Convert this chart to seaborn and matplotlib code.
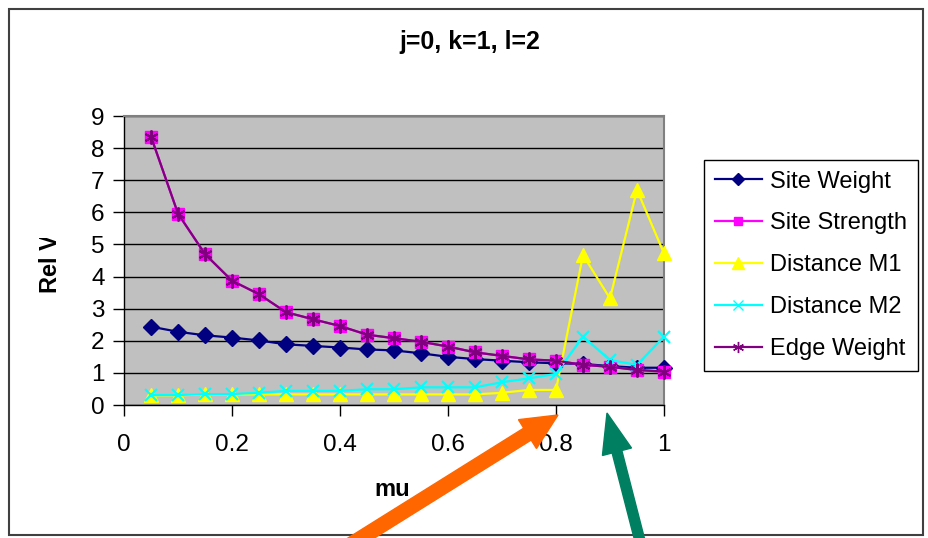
import matplotlib
matplotlib.use('Agg')
import matplotlib.pyplot as plt
import matplotlib.patches as mpatches
import matplotlib.transforms as mtrans
from matplotlib.lines import Line2D
import numpy as np
import pandas as pd
import seaborn as sns

# data
mu = [0.05, 0.10, 0.15, 0.20, 0.25, 0.30, 0.35, 0.40, 0.45, 0.50,
      0.55, 0.60, 0.65, 0.70, 0.75, 0.80, 0.85, 0.90, 0.95, 1.00]
site_weight = [2.44, 2.28, 2.17, 2.10, 2.01, 1.89, 1.84, 1.79, 1.73, 1.70,
               1.61, 1.50, 1.43, 1.38, 1.33, 1.30, 1.28, 1.21, 1.16, 1.16]
edge_weight = [8.36, 5.96, 4.70, 3.87, 3.45, 2.89, 2.67, 2.46, 2.19, 2.08,
               1.97, 1.82, 1.64, 1.53, 1.42, 1.38, 1.25, 1.19, 1.09, 1.04]
site_strength = list(edge_weight)
distance_m1 = [0.30, 0.30, 0.33, 0.33, 0.33, 0.33, 0.33, 0.33, 0.33, 0.33,
               0.33, 0.33, 0.33, 0.38, 0.47, 0.47, 4.67, 3.32, 6.70, 4.72]
distance_m2 = [0.31, 0.31, 0.34, 0.34, 0.38, 0.44, 0.44, 0.44, 0.49, 0.49,
               0.55, 0.55, 0.55, 0.71, 0.83, 0.97, 2.13, 1.40, 1.25, 2.13]

names = ['Site Weight', 'Site Strength', 'Distance M1', 'Distance M2', 'Edge Weight']
colors = ['#000080', '#FF00FF', '#FFFF00', '#00FFFF', '#800080']
markers = ['D', 's', '^', 'x', (6, 2, 0)]
msizes = [8, 8, 10, 9, 10]

df = pd.DataFrame({'mu': mu, 'Site Weight': site_weight, 'Site Strength': site_strength,
                   'Distance M1': distance_m1, 'Distance M2': distance_m2,
                   'Edge Weight': edge_weight})

plt.rcParams['font.family'] = ['Liberation Sans', 'DejaVu Sans']

W, H = 929, 538
fig = plt.figure(figsize=(W / 100, H / 100), dpi=100)
ax = fig.add_axes([124 / W, 1 - 405 / H, 540 / W, 289 / H])
ax.set_facecolor('#C0C0C0')

for n, c, m, s in zip(names, colors, markers, msizes):
    sns.lineplot(data=df, x='mu', y=n, ax=ax, color=c, marker=m, markersize=s,
                 markeredgecolor=c, markeredgewidth=1.5 if m in ('x',) or isinstance(m, tuple) else 1,
                 linewidth=1.6, label=n, legend=False, clip_on=False, zorder=3)

ax.set_xlim(0, 1)
ax.set_ylim(0, 9)
ax.set_xticks(np.arange(0, 1.01, 0.2))
ax.set_xticklabels(['0', '0.2', '0.4', '0.6', '0.8', '1'])
ax.set_yticks(range(0, 10))
ax.tick_params(axis='both', labelsize=17.5, direction='out', length=8, width=1, color='black')
ax.tick_params(axis='x', pad=13)
ax.tick_params(axis='y', pad=6)
ax.yaxis.grid(True, color='black', linewidth=1)
ax.set_axisbelow(True)
ax.set_xlabel('')
ax.set_ylabel('')
for side in ['left', 'bottom']:
    ax.spines[side].set_color('black')
    ax.spines[side].set_linewidth(1)
for side in ['top', 'right']:
    ax.spines[side].set_color('#808080')
    ax.spines[side].set_linewidth(1.5)

# title and axis labels
fig.text(470 / W, 1 - 42 / H, 'j=0, k=1, l=2', ha='center', va='center',
         fontsize=18, fontweight='bold')
fig.text(392 / W, 1 - 490 / H, 'mu', ha='center', va='center',
         fontsize=17, fontweight='bold')
ylab = fig.text(51 / W, 1 - 293 / H, 'Rel Value', rotation=90, ha='center', va='bottom',
                fontsize=17, fontweight='bold')
ylab.set_clip_box(mtrans.Bbox([[0, 0], [200, H - 238]]))
ylab.set_clip_on(True)

# legend
handles = [Line2D([], [], color=c, marker=m, markersize=s * 0.8, markeredgecolor=c,
                  linewidth=1.6) for c, m, s in zip(colors, markers, msizes)]
leg = fig.legend(handles, names, loc='upper left', bbox_to_anchor=(704 / W, 1 - 160 / H),
                 frameon=True, fancybox=False, framealpha=1, edgecolor='black',
                 fontsize=17, handlelength=2.0, labelspacing=0.84, borderpad=0.45,
                 handletextpad=0.35, borderaxespad=0)
leg.get_frame().set_linewidth(1)

# outer chart border
ident = mtrans.IdentityTransform()
fig.add_artist(mpatches.Rectangle((9, H - 535), 914, 526, fill=False,
                                  edgecolor='#404040', linewidth=1.5, transform=ident))

# annotation arrows (pixel coords, origin bottom-left)
fig.add_artist(mpatches.FancyArrow(350, H - 545, 208, 130, width=14, head_width=34,
                                   head_length=36, length_includes_head=True,
                                   color='#FF6600', transform=ident))
fig.add_artist(mpatches.FancyArrow(641, H - 545, -34, 132, width=10, head_width=30,
                                   head_length=40, length_includes_head=True,
                                   color='#008060', transform=ident))

fig.savefig('out.png', dpi=100)
